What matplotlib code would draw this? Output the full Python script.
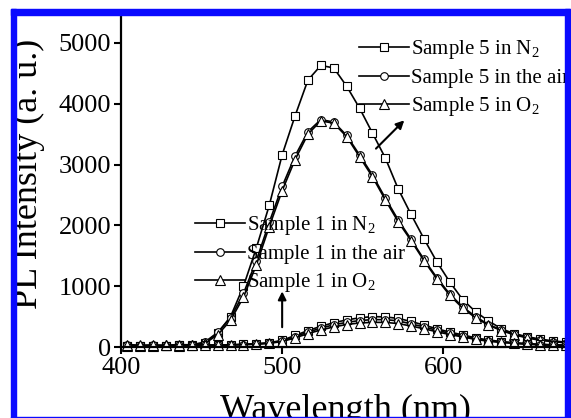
import numpy as np
import matplotlib
matplotlib.use("Agg")
import matplotlib.pyplot as plt
from matplotlib.patches import Rectangle

plt.rcParams['font.family'] = ['Liberation Serif', 'DejaVu Serif']
plt.rcParams['mathtext.fontset'] = 'custom'
plt.rcParams['mathtext.rm'] = 'Liberation Serif'
plt.rcParams['mathtext.it'] = 'Liberation Serif:italic'

# PL spectra, sampled every 8 nm
wavelength = np.arange(404, 680, 8)

s5_n2 = [10, 15, 10, 20, 25, 40, 70, 230, 500, 1000, 1630, 2330, 3160, 3800, 4390, 4630, 4590, 4290,
         3930, 3520, 3110, 2600, 2180, 1780, 1400, 1070, 780, 580, 430, 300, 220, 170, 130, 100, 80]
s5_air = [20, 10, 20, 15, 30, 35, 80, 240, 480, 880, 1420, 2050, 2640, 3140, 3540, 3740, 3700, 3480,
          3160, 2830, 2450, 2090, 1770, 1440, 1140, 870, 660, 500, 370, 280, 210, 160, 120, 90, 70]
s5_o2 = [15, 20, 15, 25, 20, 40, 60, 200, 440, 820, 1350, 1980, 2570, 3080, 3500, 3720, 3680, 3460,
         3130, 2800, 2420, 2060, 1750, 1420, 1120, 850, 640, 480, 360, 270, 200, 150, 110, 90, 70]

s1_n2 = [20, 15, 20, 15, 25, 20, 25, 30, 35, 45, 55, 70, 110, 190, 270, 340, 400, 445,
         480, 500, 495, 470, 420, 360, 300, 245, 200, 150, 115, 90, 70, 55, 45, 35, 30]
s1_air = [30, 20, 25, 20, 30, 25, 30, 30, 35, 40, 50, 65, 100, 170, 245, 310, 365, 405,
          435, 450, 450, 430, 380, 330, 275, 225, 180, 140, 105, 80, 65, 50, 40, 35, 30]
s1_o2 = [40, 30, 35, 30, 40, 35, 35, 30, 35, 40, 45, 60, 90, 150, 220, 280, 330, 370,
         395, 405, 405, 385, 345, 300, 250, 205, 165, 125, 95, 75, 60, 45, 35, 30, 25]

labels_s5 = [r'Sample 5 in N$_2$', 'Sample 5 in the air', r'Sample 5 in O$_2$']
labels_s1 = [r'Sample 1 in N$_2$', 'Sample 1 in the air', r'Sample 1 in O$_2$']

W, H = 571, 418
fig = plt.figure(figsize=(W / 100, H / 100), dpi=100)
ax = fig.add_axes([121 / W, 71 / H, 448 / W, 332 / H])

style = dict(color='black', lw=1.2, mfc='white', mec='black', mew=0.8, clip_on=False)
h5 = [ax.plot(wavelength, s5_n2, marker='s', ms=5.5, **style)[0],
      ax.plot(wavelength, s5_air, marker='o', ms=5.5, **style)[0],
      ax.plot(wavelength, s5_o2, marker='^', ms=6.5, **style)[0]]
h1 = [ax.plot(wavelength, s1_n2, marker='s', ms=5.5, **style)[0],
      ax.plot(wavelength, s1_air, marker='o', ms=5.5, **style)[0],
      ax.plot(wavelength, s1_o2, marker='^', ms=6.5, **style)[0]]

ax.set_xlim(400, 678)
ax.set_ylim(0, 5460)
ax.set_xticks([400, 500, 600])
ax.set_yticks([0, 1000, 2000, 3000, 4000, 5000])
for side in ['top', 'right']:
    ax.spines[side].set_visible(False)
for side in ['left', 'bottom']:
    ax.spines[side].set_linewidth(1.6)
ax.tick_params(direction='out', length=5, width=1.5, labelsize=19, pad=2, colors='black')

ax.set_xlabel('Wavelength (nm)', fontsize=26)
ax.xaxis.set_label_coords(0.5, -0.14)
ax.set_ylabel('PL Intensity (a. u.)', fontsize=26)
ax.yaxis.set_label_coords(-0.17, 0.52)

leg_kw = dict(frameon=False, fontsize=15, handlelength=2.4, handletextpad=0.1,
              labelspacing=0.35, borderpad=0, borderaxespad=0, loc='upper left')
leg5 = ax.legend(h5, labels_s5, bbox_to_anchor=(359 / W, 1 - 38 / H),
                 bbox_transform=fig.transFigure, **leg_kw)
ax.add_artist(leg5)
ax.legend(h1, labels_s1, bbox_to_anchor=(195 / W, 1 - 214 / H),
          bbox_transform=fig.transFigure, **leg_kw)

arrow = dict(arrowstyle='-|>', color='black', lw=1.5, mutation_scale=12)
ax.annotate('', xy=(577, 3760), xytext=(557, 3230), arrowprops=arrow)
ax.annotate('', xy=(500, 960), xytext=(500, 280), arrowprops=arrow)

# blue frame around the figure
blue = '#0a0aff'
for x0, y0, w, h in [(11, 9, 5, 409), (11, 9, 559, 6), (565, 9, 5, 409), (11, 416.5, 559, 1.5)]:
    fig.patches.append(Rectangle((x0 / W, 1 - (y0 + h) / H), w / W, h / H,
                                 transform=fig.transFigure, color=blue, zorder=10))

fig.savefig('out.png', dpi=100)
